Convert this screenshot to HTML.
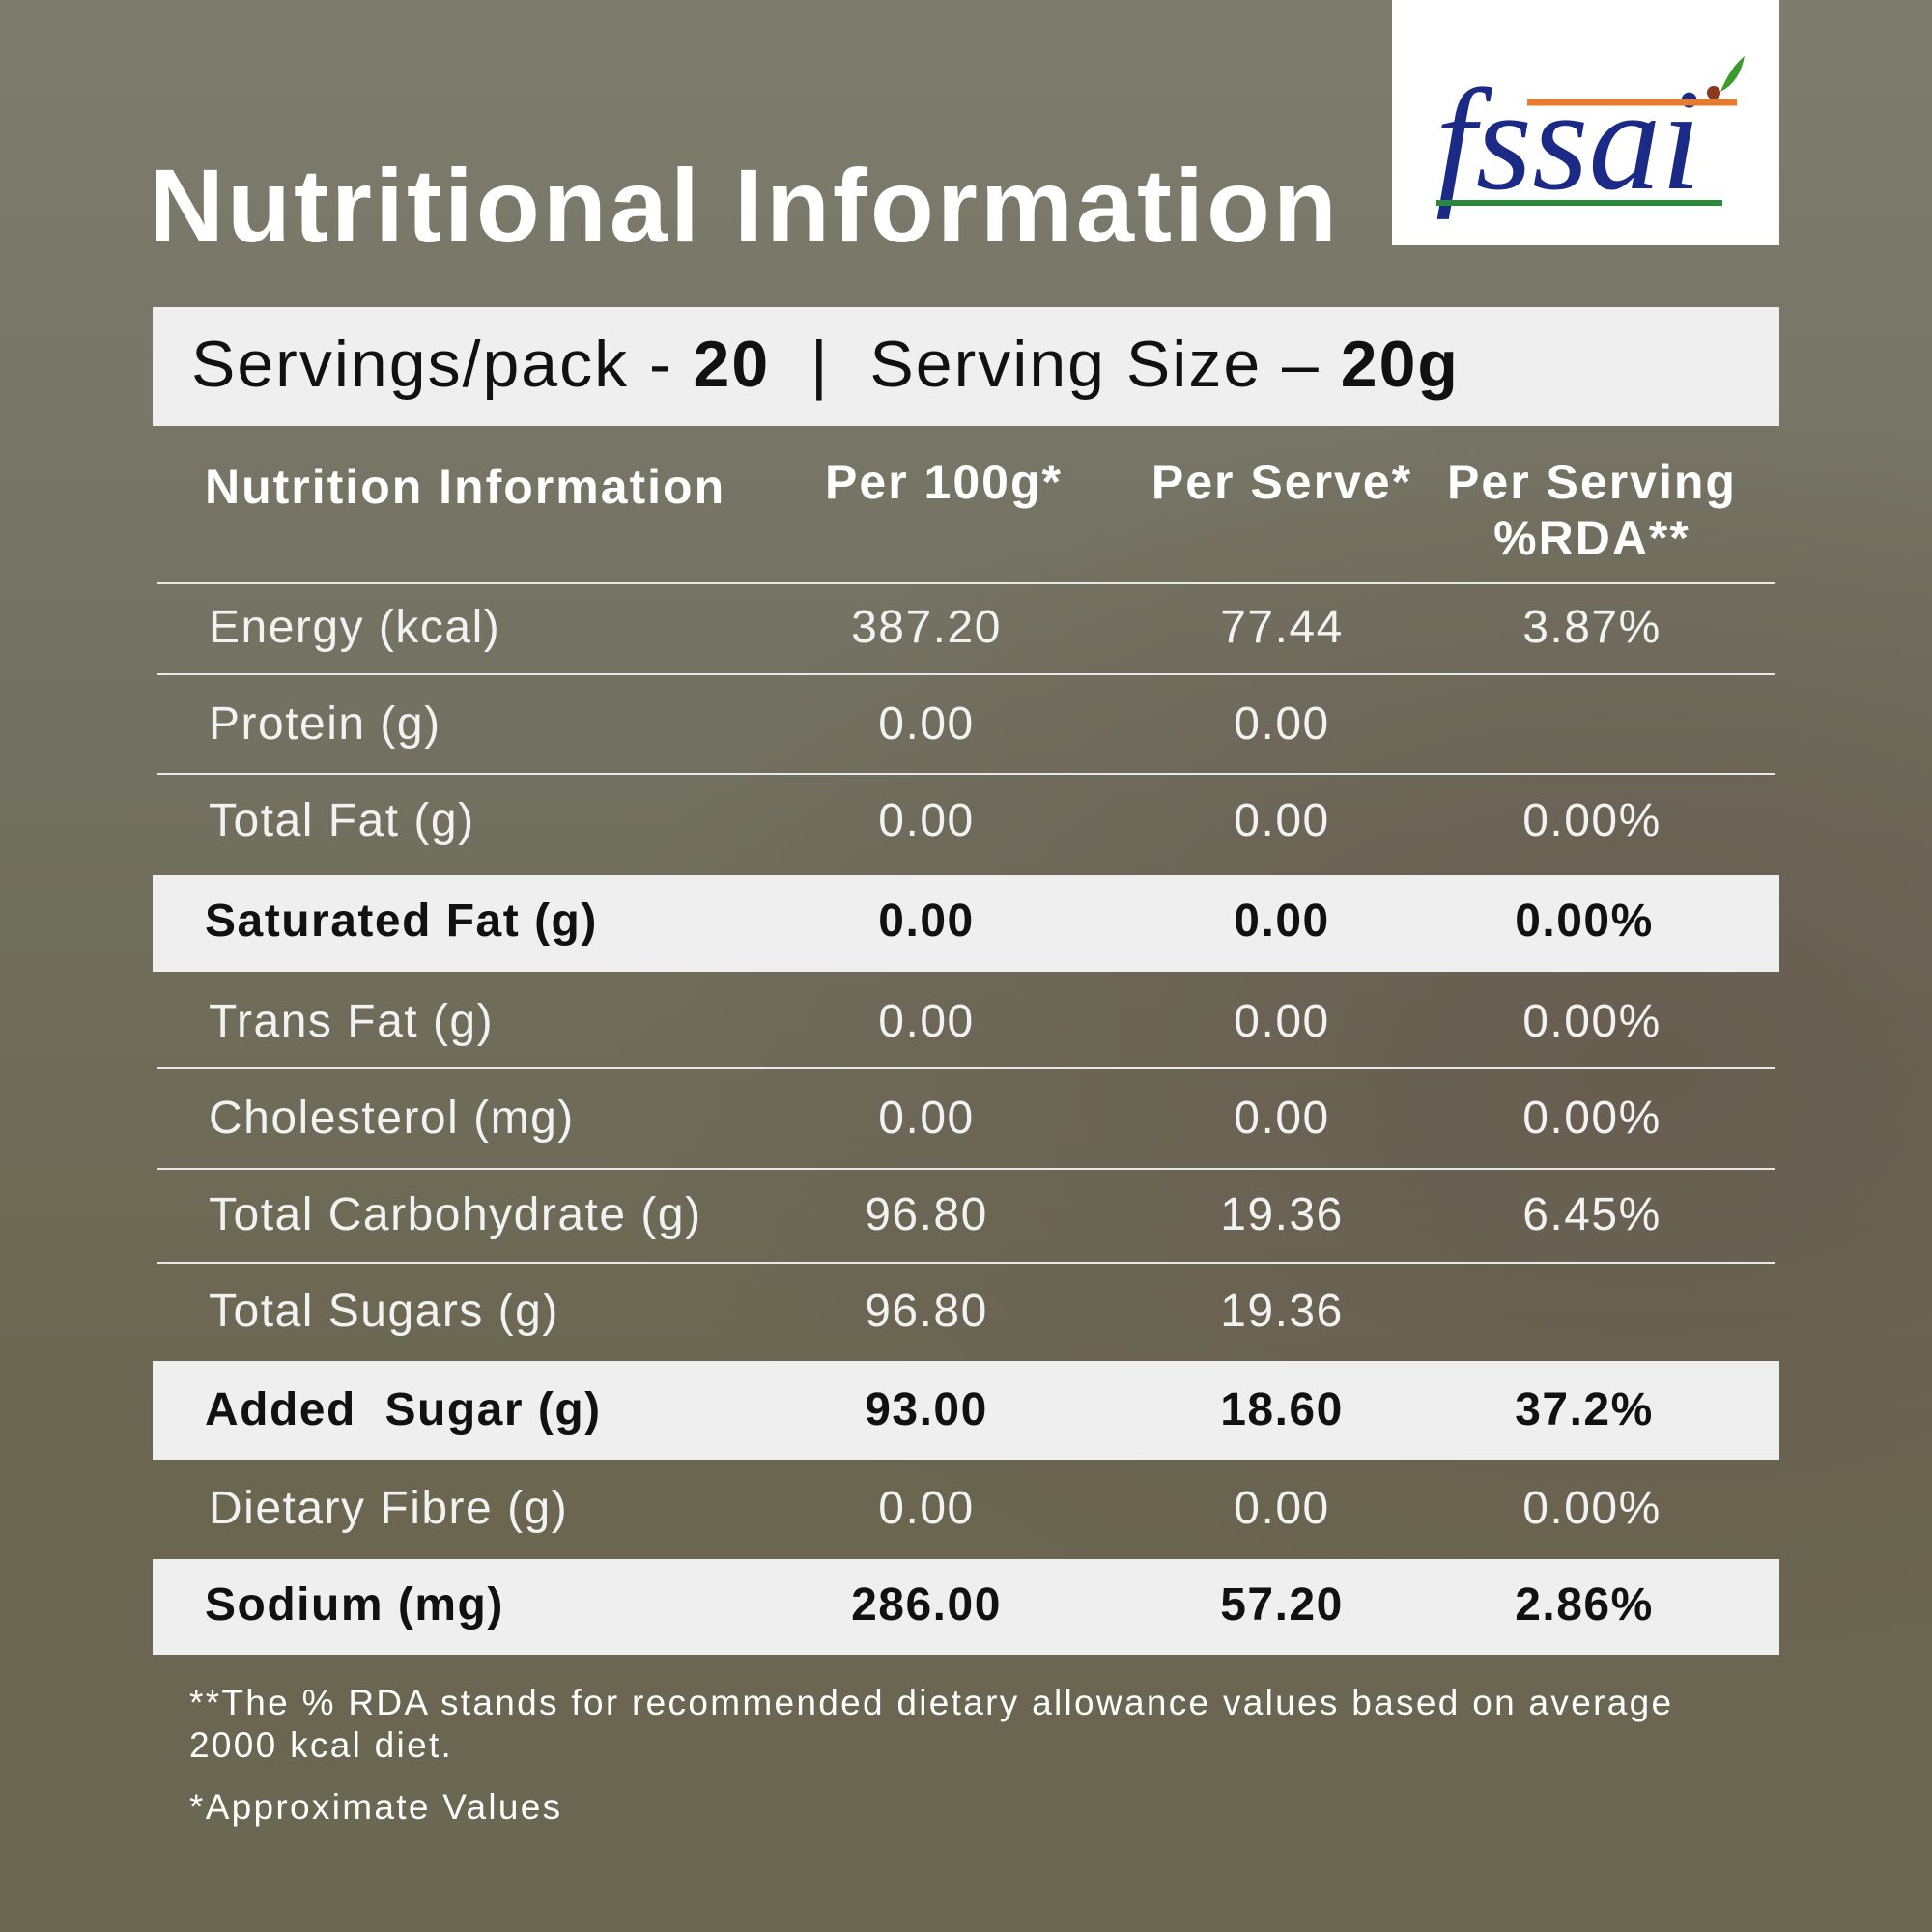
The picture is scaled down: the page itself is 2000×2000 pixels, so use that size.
<!DOCTYPE html>
<html><head><meta charset="utf-8"><style>
html,body{margin:0;padding:0}
body{width:2000px;height:2000px;position:relative;overflow:hidden;font-family:"Liberation Sans",sans-serif;
background:radial-gradient(ellipse at 85% 55%,#675d50 0%,rgba(103,93,80,0) 45%),linear-gradient(180deg,#7e7d6d 0%,#727060 40%,#6a6650 75%,#6a6752 100%);}
.t{position:absolute;white-space:nowrap}
#title{left:154px;top:150px;font-size:108px;font-weight:bold;color:#fff;letter-spacing:3px}
#logo{position:absolute;left:1441px;top:0;width:401px;height:254px;background:#fff}
#serv{position:absolute;left:158px;top:318px;width:1684px;height:123px;background:#efefef}
#serv span{position:absolute;left:40px;top:20px;font-size:68px;color:#111;white-space:nowrap;letter-spacing:2px}
.w{position:absolute;left:158px;width:1684px;background:#efefef}
.ln{position:absolute;left:163px;width:1674px;height:2px;background:#e8e8e8}
.r{position:absolute;font-size:48px;color:#f2f2f2;white-space:nowrap;letter-spacing:1.5px}
.b{font-weight:bold;color:#111}
.h{position:absolute;font-size:50px;font-weight:bold;color:#fff;white-space:nowrap;letter-spacing:2px}
.c{transform:translateX(-50%)}
.f{position:absolute;left:196px;font-size:37px;color:#fff;white-space:nowrap;letter-spacing:2.3px}
</style></head><body>
<div class="t" id="title">Nutritional Information</div>
<div id="logo"><svg width="401" height="254" viewBox="0 0 401 254">
<text x="45" y="195" font-family="Liberation Serif,serif" font-style="italic" font-size="150" fill="#1b2a86">fssai</text>
<path d="M140 106 L357 106" stroke="#e77b2e" stroke-width="7"/>
<path d="M46 210 L342 210" stroke="#2a8a3a" stroke-width="6"/>
<path d="M340 95 Q350 70 365 58 Q360 85 340 95Z" fill="#3a9a2a"/>
<circle cx="333" cy="96" r="7" fill="#8a3a20"/>
</svg></div>
<div id="serv"><span>Servings/pack - <b>20</b> &nbsp;|&nbsp; Serving Size – <b>20g</b></span></div>
<div class="h" style="left:212px;top:475px">Nutrition Information</div>
<div class="h c" style="left:977px;top:470px">Per 100g*</div>
<div class="h c" style="left:1327px;top:470px">Per Serve*</div>
<div class="h c" style="left:1648px;top:470px;text-align:center;line-height:58px">Per Serving<br>%RDA**</div>
<div class="ln" style="top:603px"></div>
<div class="ln" style="top:697px"></div>
<div class="ln" style="top:800px"></div>
<div class="w" style="top:906px;height:100px"></div>
<div class="ln" style="top:1105px"></div>
<div class="ln" style="top:1209px"></div>
<div class="ln" style="top:1306px"></div>
<div class="w" style="top:1409px;height:102px"></div>
<div class="w" style="top:1614px;height:99px"></div>

<div class="r" style="left:216px;top:622px">Energy (kcal)</div><div class="r c" style="left:959px;top:622px">387.20</div><div class="r c" style="left:1327px;top:622px">77.44</div><div class="r c" style="left:1648px;top:622px">3.87%</div>
<div class="r" style="left:216px;top:722px">Protein (g)</div><div class="r c" style="left:959px;top:722px">0.00</div><div class="r c" style="left:1327px;top:722px">0.00</div>
<div class="r" style="left:216px;top:822px">Total Fat (g)</div><div class="r c" style="left:959px;top:822px">0.00</div><div class="r c" style="left:1327px;top:822px">0.00</div><div class="r c" style="left:1648px;top:822px">0.00%</div>
<div class="r b" style="left:212px;top:926px">Saturated Fat (g)</div><div class="r b c" style="left:959px;top:926px">0.00</div><div class="r b c" style="left:1327px;top:926px">0.00</div><div class="r b c" style="left:1640px;top:926px">0.00%</div>
<div class="r" style="left:216px;top:1030px">Trans Fat (g)</div><div class="r c" style="left:959px;top:1030px">0.00</div><div class="r c" style="left:1327px;top:1030px">0.00</div><div class="r c" style="left:1648px;top:1030px">0.00%</div>
<div class="r" style="left:216px;top:1130px">Cholesterol (mg)</div><div class="r c" style="left:959px;top:1130px">0.00</div><div class="r c" style="left:1327px;top:1130px">0.00</div><div class="r c" style="left:1648px;top:1130px">0.00%</div>
<div class="r" style="left:216px;top:1230px">Total Carbohydrate (g)</div><div class="r c" style="left:959px;top:1230px">96.80</div><div class="r c" style="left:1327px;top:1230px">19.36</div><div class="r c" style="left:1648px;top:1230px">6.45%</div>
<div class="r" style="left:216px;top:1330px">Total Sugars (g)</div><div class="r c" style="left:959px;top:1330px">96.80</div><div class="r c" style="left:1327px;top:1330px">19.36</div>
<div class="r b" style="left:212px;top:1432px">Added &nbsp;Sugar (g)</div><div class="r b c" style="left:959px;top:1432px">93.00</div><div class="r b c" style="left:1327px;top:1432px">18.60</div><div class="r b c" style="left:1640px;top:1432px">37.2%</div>
<div class="r" style="left:216px;top:1534px">Dietary Fibre (g)</div><div class="r c" style="left:959px;top:1534px">0.00</div><div class="r c" style="left:1327px;top:1534px">0.00</div><div class="r c" style="left:1648px;top:1534px">0.00%</div>
<div class="r b" style="left:212px;top:1634px">Sodium (mg)</div><div class="r b c" style="left:959px;top:1634px">286.00</div><div class="r b c" style="left:1327px;top:1634px">57.20</div><div class="r b c" style="left:1640px;top:1634px">2.86%</div>

<div class="f" style="top:1742px">**The % RDA stands for recommended dietary allowance values based on average</div>
<div class="f" style="top:1786px">2000 kcal diet.</div>
<div class="f" style="top:1850px">*Approximate Values</div>
</body></html>
